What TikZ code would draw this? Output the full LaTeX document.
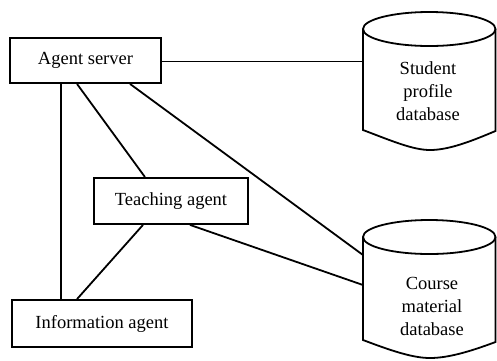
\documentclass[tikz,border=0pt]{standalone}
\usepackage{fontspec}
\setmainfont{Liberation Serif}
\begin{document}
\begin{tikzpicture}[x=1pt,y=-1pt,
  every node/.style={font=\fontsize{18.5}{23}\selectfont},
  agentbox/.style={draw,line width=1.8pt,inner sep=0pt,fill=white},
  link/.style={line width=1.8pt},
  dbshape/.style={line width=1.8pt}]
\useasboundingbox (0,0) rectangle (497,360);
% nodes
\node[agentbox,minimum width=151pt,minimum height=45pt] (agent) at (85.5,60.5) {Agent server};
\node[agentbox,minimum width=154pt,minimum height=46pt] (teach) at (171,201) {Teaching agent};
\node[agentbox,minimum width=180pt,minimum height=47pt] (info) at (102,323.5) {Information agent};
% student database cylinder
\draw[dbshape] (363,29) -- (363,130) .. controls (392,141) and (413,150) .. (430,150)
  .. controls (450,150) and (474,140) .. (495.5,131) -- (495.5,29);
\draw[dbshape] (429.25,29) ellipse [x radius=66.25, y radius=17];
\node[align=center] (student) at (428,91) {Student\\profile\\database};
\coordinate (sL) at (363,61.5);
% course database cylinder
\draw[dbshape] (363,237) -- (363,340) .. controls (392,351) and (413,358) .. (430,358)
  .. controls (450,358) and (474,350) .. (495.5,342) -- (495.5,237);
\draw[dbshape] (429.25,237) ellipse [x radius=66.25, y radius=17];
\node[align=center] (course) at (432,306) {Course\\material\\database};
\coordinate (cL1) at (363,255);
\coordinate (cL2) at (363,285);
% connectors
\draw[link] (agent.east |- sL) -- (sL);
\draw[link] (agent.south -| 61,0) -- (info.north -| 61,0);
\draw[link] (agent.south -| 77,0) -- (teach.north -| 145,0);
\draw[link] (agent.south -| 130,0) -- (cL1);
\draw[link] (teach.south -| 143,0) -- (info.north -| 77,0);
\draw[link] (teach.south -| 190,0) -- (cL2);
\end{tikzpicture}
\end{document}
